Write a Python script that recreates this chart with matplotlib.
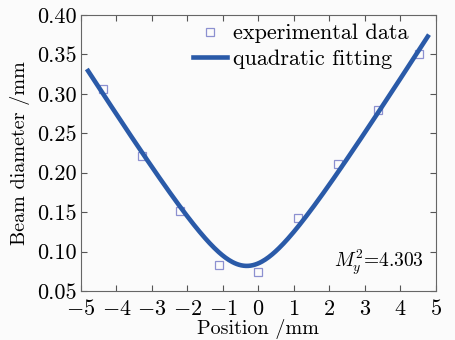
import matplotlib.pyplot as plt
import numpy as np

plt.rcParams['font.family'] = 'cmr10'
plt.rcParams['mathtext.fontset'] = 'cm'
plt.rcParams['axes.formatter.use_mathtext'] = True

# measured beam diameters
pos = [-4.38, -3.28, -2.21, -1.11, -0.01, 1.11, 2.24, 3.37, 4.52]
diam = [0.306, 0.221, 0.151, 0.083, 0.074, 0.142, 0.211, 0.279, 0.350]

# fitted curve range
fit_lo, fit_hi = -4.8, 4.77

# quadratic fit of d^2 against position
c = np.polyfit(pos, np.array(diam) ** 2, 2)
z = np.linspace(fit_lo, fit_hi, 300)
d = np.sqrt(np.polyval(c, z))

fig = plt.figure(figsize=(4.55, 3.4), dpi=100)
fig.patch.set_facecolor('#fbfbfb')
ax = fig.add_axes([0.178, 0.144, 0.780, 0.812])
ax.set_facecolor('#fbfbfb')

ax.plot(pos, diam, 's', mfc='none', mec='#8c90d0', ms=5.5, mew=0.9,
        label='experimental data')
ax.plot(z, d, '-', color='#2a5aa8', lw=3.3, label='quadratic fitting')

ax.set_xlim(-5, 5)
ax.set_ylim(0.05, 0.40)
ax.set_xticks(np.arange(-5, 6, 1))
ax.set_yticks(np.arange(0.05, 0.401, 0.05))
ax.set_yticklabels(['%.2f' % v for v in np.arange(0.05, 0.401, 0.05)])
ax.tick_params(direction='in', top=True, right=True, length=4, pad=3,
               labelsize=16, color='#555555')
ax.tick_params(axis='x', pad=6)
for s in ax.spines.values():
    s.set_color('#666666')

ax.set_xlabel('Position /mm', fontsize=14.5, labelpad=0)
ax.set_ylabel('Beam diameter /mm', fontsize=14.5, labelpad=5)

ax.text(0.965, 0.105, r'$M_y^2$=4.303', transform=ax.transAxes,
        ha='right', va='center', fontsize=14)

ax.legend(loc='upper right', frameon=False, fontsize=16, handlelength=1.5,
          handletextpad=0.3, borderaxespad=0.0, labelspacing=0.25,
          bbox_to_anchor=(0.949, 1.0))

fig.savefig('out.png', dpi=100, facecolor=fig.get_facecolor())
